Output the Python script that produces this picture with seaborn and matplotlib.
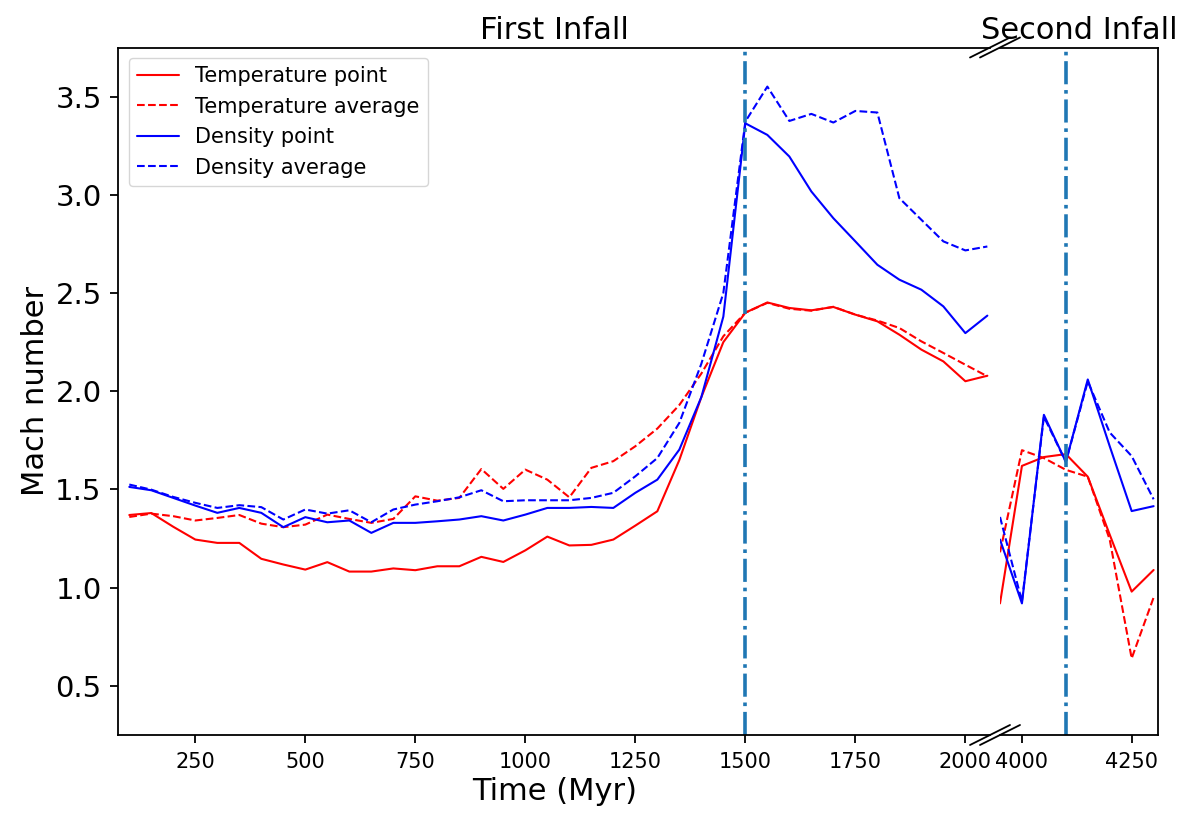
import matplotlib
matplotlib.use("Agg")
import matplotlib.pyplot as plt
from matplotlib.lines import Line2D
import seaborn as sns

# ---------------- data ----------------
time_first = [100, 150, 200, 250, 300, 350, 400, 450, 500, 550,
              600, 650, 700, 750, 800, 850, 900, 950, 1000, 1050,
              1100, 1150, 1200, 1250, 1300, 1350, 1400, 1450, 1500, 1550,
              1600, 1650, 1700, 1750, 1800, 1850, 1900, 1950, 2000, 2050]

temp_point_first = [1.37, 1.38, 1.31, 1.245, 1.228, 1.228, 1.147, 1.118, 1.092, 1.13,
                    1.082, 1.082, 1.098, 1.089, 1.109, 1.109, 1.157, 1.131, 1.19, 1.26,
                    1.215, 1.218, 1.245, 1.316, 1.389, 1.65, 1.97, 2.25, 2.40, 2.452,
                    2.424, 2.412, 2.429, 2.39, 2.356, 2.288, 2.212, 2.152, 2.051, 2.079]

temp_avg_first = [1.36, 1.377, 1.364, 1.342, 1.355, 1.37, 1.326, 1.308, 1.321, 1.372,
                  1.35, 1.33, 1.35, 1.465, 1.443, 1.457, 1.604, 1.503, 1.601, 1.55,
                  1.46, 1.61, 1.644, 1.72, 1.81, 1.93, 2.09, 2.28, 2.40, 2.45,
                  2.42, 2.41, 2.43, 2.39, 2.36, 2.322, 2.254, 2.195, 2.135, 2.076]

dens_point_first = [1.513, 1.496, 1.457, 1.418, 1.381, 1.406, 1.381, 1.308, 1.359, 1.333,
                    1.342, 1.279, 1.33, 1.33, 1.338, 1.347, 1.364, 1.342, 1.372, 1.406,
                    1.406, 1.411, 1.406, 1.483, 1.55, 1.703, 1.97, 2.38, 3.364, 3.305,
                    3.195, 3.017, 2.881, 2.763, 2.644, 2.568, 2.517, 2.432, 2.296, 2.385]

dens_avg_first = [1.525, 1.499, 1.462, 1.432, 1.406, 1.42, 1.41, 1.347, 1.398, 1.377,
                  1.394, 1.333, 1.398, 1.423, 1.44, 1.46, 1.496, 1.44, 1.445, 1.445,
                  1.445, 1.457, 1.483, 1.567, 1.66, 1.839, 2.14, 2.5, 3.373, 3.551,
                  3.376, 3.412, 3.368, 3.427, 3.419, 2.983, 2.873, 2.763, 2.717, 2.737]

time_second = [3950, 4000, 4050, 4100, 4150, 4200, 4250, 4300]
temp_point_second = [0.92, 1.62, 1.665, 1.68, 1.565, 1.27, 0.98, 1.09]
temp_avg_second = [1.18, 1.70, 1.66, 1.60, 1.565, 1.245, 0.64, 0.95]
dens_point_second = [1.245, 0.92, 1.88, 1.64, 2.06, 1.72, 1.39, 1.415]
dens_avg_second = [1.36, 0.93, 1.87, 1.64, 2.05, 1.79, 1.67, 1.45]

first_infall_time = 1500
second_infall_time = 4100

first_xticks = [250, 500, 750, 1000, 1250, 1500, 1750, 2000]
second_xticks = [4000, 4250]
yticks = [0.5, 1.0, 1.5, 2.0, 2.5, 3.0, 3.5]

# ---------------- style ----------------
sns.set_style("ticks")
plt.rcParams["font.family"] = ["DejaVu Sans"]
plt.rcParams["axes.linewidth"] = 1.3
for key in ("text.color", "axes.labelcolor", "xtick.color", "ytick.color", "axes.edgecolor"):
    plt.rcParams[key] = "black"

W, H = 1204, 818
fig = plt.figure(figsize=(W / 100, H / 100), dpi=100)
fig.patch.set_facecolor("white")

def fx(px):
    return px / W

def fy(py):
    return 1 - py / H

left_px, right1_px, left2_px, right2_px = 118.3, 990.0, 1000.0, 1158.0
top_px, bot_px = 47.5, 735.0

ax1 = fig.add_axes([fx(left_px), fy(bot_px), fx(right1_px - left_px), (bot_px - top_px) / H])
ax2 = fig.add_axes([fx(left2_px), fy(bot_px), fx(right2_px - left2_px), (bot_px - top_px) / H])

lw = 1.5
series = [
    ("Temperature point", "red", "-", temp_point_first, temp_point_second),
    ("Temperature average", "red", "--", temp_avg_first, temp_avg_second),
    ("Density point", "blue", "-", dens_point_first, dens_point_second),
    ("Density average", "blue", "--", dens_avg_first, dens_avg_second),
]
for label, color, ls, yf, ys in series:
    sns.lineplot(x=time_first, y=yf, color=color, linestyle=ls, linewidth=lw,
                 label=label, ax=ax1, legend=False)
    sns.lineplot(x=time_second, y=ys, color=color, linestyle=ls, linewidth=lw,
                 ax=ax2, legend=False)

vl_color = "#1f77b4"
ax1.axvline(first_infall_time, color=vl_color, linestyle="-.", linewidth=2.6)
ax2.axvline(second_infall_time, color=vl_color, linestyle="-.", linewidth=2.6)

ax1.set_xlim(75, 2056)
ax2.set_xlim(3950, 4310)
for ax in (ax1, ax2):
    ax.set_ylim(0.25, 3.75)

ax1.set_xticks(first_xticks)
ax2.set_xticks(second_xticks)
ax1.set_yticks(yticks)
ax1.set_yticklabels([f"{v:.1f}" for v in yticks])

ax1.spines["right"].set_visible(False)
ax2.spines["left"].set_visible(False)
ax2.tick_params(axis="y", left=False, labelleft=False, right=False)

for ax in (ax1, ax2):
    ax.tick_params(axis="x", labelsize=15, length=6, width=1.3, pad=6)
ax1.tick_params(axis="y", labelsize=21, length=6, width=1.3, pad=6)

ax1.set_xlabel("Time (Myr)", fontsize=22)
ax1.set_ylabel("Mach number", fontsize=22)
ax2.set_xlabel("")
ax2.set_ylabel("")

ax1.set_title("First Infall", fontsize=22)
ax2.set_title("Second Infall", fontsize=22)

ax1.legend(loc="upper left", fontsize=15, frameon=True)

# break markers
for yb in (top_px, bot_px):
    for xc in (right1_px, left2_px):
        fig.add_artist(Line2D([fx(xc - 20), fx(xc + 20)], [fy(yb + 10), fy(yb - 10)],
                              color="black", linewidth=1.3))

fig.savefig("out.png", dpi=100, facecolor="white")
